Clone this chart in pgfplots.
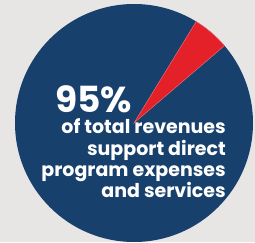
\documentclass[border=0pt]{standalone}
\usepackage{pgfplots}
\pgfplotsset{compat=1.18}
\usepackage{pgfplotstable}
\usepackage{fontspec}
\setmainfont{Poppins}
\definecolor{bg}{RGB}{232,230,229}
\definecolor{navy}{RGB}{24,64,108}
\definecolor{pred}{RGB}{228,32,40}
\pgfplotstableread{
part value
program 95
other 5
}\piedata
\tikzset{line/.style={anchor=base east, text=white, inner sep=0pt, text height=13pt, text depth=4pt, font=\bfseries\fontsize{19}{19}\selectfont}}
\begin{document}
\begin{tikzpicture}
\begin{axis}[
  x=1pt, y=1pt,
  xmin=0, xmax=255, ymin=0, ymax=242,
  hide axis, clip=true,
]
\pgfplotstablegetelem{1}{value}\of\piedata
\pgfmathsetmacro{\otherdeg}{3.6*\pgfplotsretval}
\fill[bg] (axis cs:0,0) rectangle (axis cs:255,242);
\fill[navy] (axis cs:134,119) circle[radius=119];
\fill[pred, draw=pred!60!white, line width=0.4pt] (axis cs:134,119) -- ++(40.5:119) arc[start angle=40.5, delta angle=\otherdeg, radius=119] -- cycle;
\node[anchor=base west, text=white, inner sep=0pt, text height=26pt, text depth=0pt, font=\bfseries\fontsize{36}{36}\selectfont] at (axis cs:55,130) {95\%};
\node[line] at (axis cs:226,109) {of total revenues};
\node[line] at (axis cs:226,87) {support direct};
\node[line] at (axis cs:226,66) {program expenses};
\node[line] at (axis cs:226,45) {and services};
\end{axis}
\end{tikzpicture}
\end{document}
